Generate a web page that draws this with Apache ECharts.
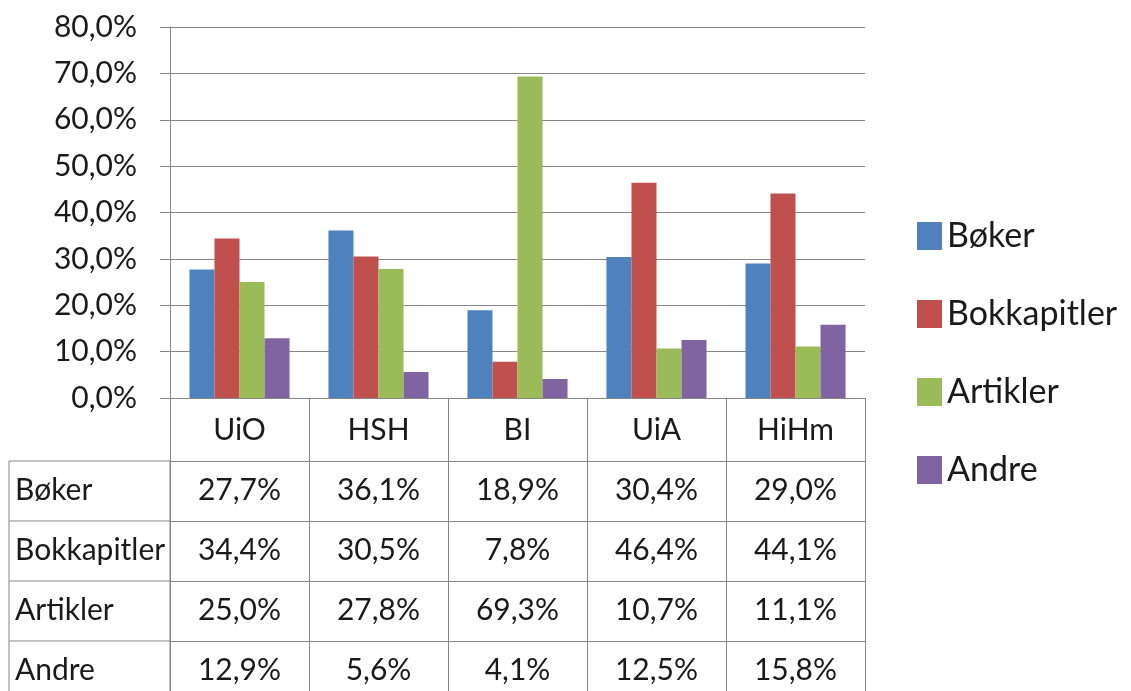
<!DOCTYPE html>
<html>
<head>
<meta charset="utf-8">
<script src="https://cdn.jsdelivr.net/npm/echarts@6/dist/echarts.min.js"></script>
<style>
html,body{margin:0;padding:0;background:#fff;}
#chart{width:1131px;height:691px;}
</style>
</head>
<body>
<div id="chart"></div>
<script>
const categories = ['UiO', 'HSH', 'BI', 'UiA', 'HiHm'];
const seriesNames = ['Bøker', 'Bokkapitler', 'Artikler', 'Andre'];
const boker = [27.7, 36.1, 18.9, 30.4, 29.0];
const bokkapitler = [34.4, 30.5, 7.8, 46.4, 44.1];
const artikler = [25.0, 27.8, 69.3, 10.7, 11.1];
const andre = [12.9, 5.6, 4.1, 12.5, 15.8];
const yMin = 0, yMax = 80, yStep = 10;

const allValues = [boker, bokkapitler, artikler, andre];
const colors = ['#4F81BD', '#C0504D', '#9BBB59', '#8064A2'];
const FONT = 'Lato';
const TXT = '#1a1a1a';
const GRID = '#868686';
const HEADER_H = 63, ROW_H = 60;

const fmt = v => v.toFixed(1).replace('.', ',') + '%';

const chart = echarts.init(document.getElementById('chart'), null, {renderer: 'canvas'});

const xAxes = [{
  type: 'category',
  data: categories,
  gridIndex: 0,
  position: 'bottom',
  axisLine: {show: true, lineStyle: {color: GRID, width: 1}},
  axisTick: {show: true, interval: 0, length: HEADER_H, lineStyle: {color: GRID}},
  axisLabel: {interval: 0, margin: 32, verticalAlign: 'middle', fontFamily: FONT, fontSize: 30, color: TXT}
}];
allValues.forEach((vals, k) => {
  xAxes.push({
    type: 'category',
    data: vals.map(fmt),
    gridIndex: 0,
    position: 'bottom',
    offset: HEADER_H + ROW_H * k,
    axisLine: {show: true, lineStyle: {color: GRID, width: 1}},
    axisTick: {show: true, interval: 0, length: ROW_H, lineStyle: {color: GRID}},
    axisLabel: {interval: 0, margin: 29, verticalAlign: 'middle', fontFamily: FONT, fontSize: 30, color: TXT}
  });
});

const option = {
  animation: false,
  backgroundColor: '#ffffff',
  textStyle: {fontFamily: FONT},
  grid: {left: 170, right: 266, top: 27, bottom: 293, containLabel: false},
  legend: {
    orient: 'vertical',
    left: 917,
    top: 219,
    padding: 0,
    icon: 'rect',
    itemWidth: 25,
    itemHeight: 28,
    itemGap: 44,
    data: seriesNames,
    textStyle: {fontFamily: FONT, fontSize: 34, color: TXT, lineHeight: 31}
  },
  xAxis: xAxes,
  yAxis: {
    type: 'value',
    min: yMin, max: yMax, interval: yStep,
    axisLine: {show: true, lineStyle: {color: GRID}},
    axisTick: {show: true, length: 10, lineStyle: {color: GRID}},
    splitLine: {show: true, lineStyle: {color: GRID, width: 1}},
    axisLabel: {margin: 33, formatter: v => fmt(v), fontFamily: FONT, fontSize: 30, color: TXT}
  },
  series: seriesNames.map((name, i) => ({
    name: name,
    type: 'bar',
    xAxisIndex: 0,
    data: allValues[i],
    itemStyle: {color: colors[i]},
    barGap: '0%',
    barCategoryGap: '28%'
  }))
};
chart.setOption(option);

// Left column of the data table (row labels), positioned from the axes
const y0 = chart.convertToPixel({yAxisIndex: 0}, 0);
const c0 = chart.convertToPixel({xAxisIndex: 0}, categories[0]);
const c1 = chart.convertToPixel({xAxisIndex: 0}, categories[1]);
const step = c1 - c0;
const tableLeftInner = c0 - step / 2;
const tableLeft = 9;
const graphics = [];
seriesNames.forEach((name, k) => {
  const top = y0 + HEADER_H + ROW_H * k;
  graphics.push({
    type: 'line',
    shape: {x1: tableLeft, y1: top, x2: tableLeftInner, y2: top},
    style: {stroke: GRID, lineWidth: 1}
  });
  graphics.push({
    type: 'text',
    x: tableLeft + 6,
    y: top + ROW_H / 2 - 1,
    style: {text: name, fontFamily: FONT, fontSize: 30, fill: TXT, verticalAlign: 'middle', align: 'left'}
  });
});
graphics.push({
  type: 'line',
  shape: {x1: tableLeft, y1: y0 + HEADER_H, x2: tableLeft, y2: y0 + HEADER_H + ROW_H * seriesNames.length},
  style: {stroke: GRID, lineWidth: 1}
});
graphics.push({
  type: 'line',
  shape: {x1: tableLeftInner, y1: y0 + HEADER_H, x2: tableLeftInner, y2: y0 + HEADER_H + ROW_H * seriesNames.length},
  style: {stroke: GRID, lineWidth: 1}
});
chart.setOption({graphic: graphics});
</script>
</body>
</html>
